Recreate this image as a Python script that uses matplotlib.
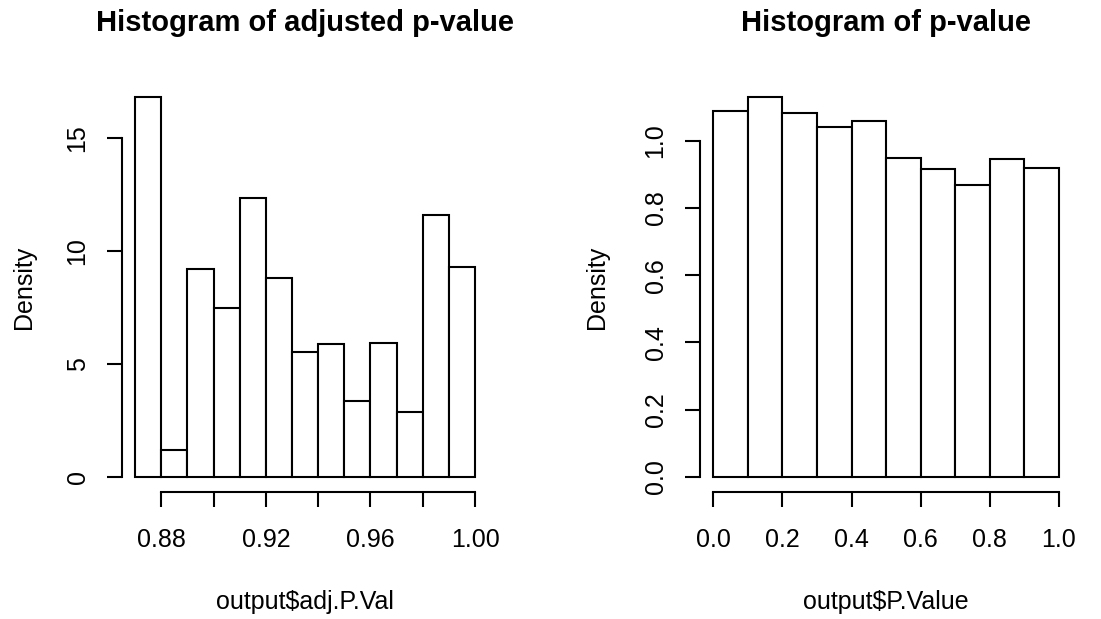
import numpy as np
import matplotlib
matplotlib.use("Agg")
import matplotlib.pyplot as plt

plt.rcParams['font.family'] = ['Liberation Sans', 'DejaVu Sans']

# Left histogram: adjusted p-value
adj_edges = [0.87, 0.88, 0.89, 0.90, 0.91, 0.92, 0.93, 0.94, 0.95, 0.96, 0.97, 0.98, 0.99, 1.00]
adj_density = [16.79, 1.17, 9.19, 7.45, 12.32, 8.78, 5.53, 5.86, 3.35, 5.92, 2.86, 11.57, 9.27]
adj_xticks = [0.88, 0.90, 0.92, 0.94, 0.96, 0.98, 1.00]
adj_xticklabels = ["0.88", "", "0.92", "", "0.96", "", "1.00"]
adj_yticks = [0, 5, 10, 15]
adj_yticklabels = ["0", "5", "10", "15"]

# Right histogram: p-value
p_edges = [0.0, 0.1, 0.2, 0.3, 0.4, 0.5, 0.6, 0.7, 0.8, 0.9, 1.0]
p_density = [1.089, 1.130, 1.084, 1.040, 1.059, 0.950, 0.917, 0.868, 0.947, 0.920]
p_xticks = [0.0, 0.2, 0.4, 0.6, 0.8, 1.0]
p_xticklabels = ["0.0", "0.2", "0.4", "0.6", "0.8", "1.0"]
p_yticks = [0.0, 0.2, 0.4, 0.6, 0.8, 1.0]
p_yticklabels = ["0.0", "0.2", "0.4", "0.6", "0.8", "1.0"]

W, H = 1101, 619
fig = plt.figure(figsize=(W / 100, H / 100), dpi=100)

LW = 1.5
TICK_FS = 18
TITLE_FS = 21


def r_hist(rect, edges, dens, xticks, xlabels, yticks, ylabels, title, xlabel):
    ax = fig.add_axes(rect)
    edges = np.asarray(edges)
    ax.bar(edges[:-1], dens, width=np.diff(edges), align='edge',
           facecolor='white', edgecolor='black', linewidth=LW)
    x0, x1 = edges[0], edges[-1]
    dx = (x1 - x0) * 0.04
    ymax = max(dens)
    dy = ymax * 0.04
    ax.set_xlim(x0 - dx, x1 + dx)
    ax.set_ylim(-dy, ymax + dy)
    for s in ['top', 'right']:
        ax.spines[s].set_visible(False)
    ax.spines['left'].set_bounds(yticks[0], yticks[-1])
    ax.spines['bottom'].set_bounds(xticks[0], xticks[-1])
    for s in ['left', 'bottom']:
        ax.spines[s].set_linewidth(LW)
    ax.set_xticks(xticks)
    ax.set_xticklabels(xlabels)
    ax.set_yticks(yticks)
    ax.set_yticklabels(ylabels)
    ax.tick_params(axis='both', direction='out', length=11, width=LW,
                   labelsize=TICK_FS, color='black')
    ax.tick_params(axis='x', pad=15)
    ax.tick_params(axis='y', pad=12)
    for lab in ax.get_yticklabels():
        lab.set_rotation(90)
        lab.set_va('center')
    ax.set_title(title, fontsize=TITLE_FS, fontweight='bold',
                 y=(492 - 23) / 410, va='center', pad=0)
    ax.set_xlabel(xlabel, fontsize=TICK_FS)
    ax.set_ylabel('Density', fontsize=TICK_FS)
    return ax


def rect_px(left, right, top, bottom):
    return [left / W, 1 - bottom / H, (right - left) / W, (bottom - top) / H]


ax1 = r_hist(rect_px(121.5, 488.7, 82, 492), adj_edges, adj_density,
             adj_xticks, adj_xticklabels, adj_yticks, adj_yticklabels,
             'Histogram of adjusted p-value', 'output$adj.P.Val')
ax2 = r_hist(rect_px(699.5, 1072.8, 82, 492), p_edges, p_density,
             p_xticks, p_xticklabels, p_yticks, p_yticklabels,
             'Histogram of p-value', 'output$P.Value')

for ax, lx in [(ax1, (24 - 121.5) / 367.2), (ax2, (597 - 699.5) / 373.3)]:
    ax.yaxis.set_label_coords(lx, 0.5)
    ax.xaxis.set_label_coords(0.5, (492 - 602) / 410)
    ax.xaxis.label.set_va('center')
    ax.yaxis.label.set_va('center')

fig.savefig('out.png', dpi=100, facecolor='white')
